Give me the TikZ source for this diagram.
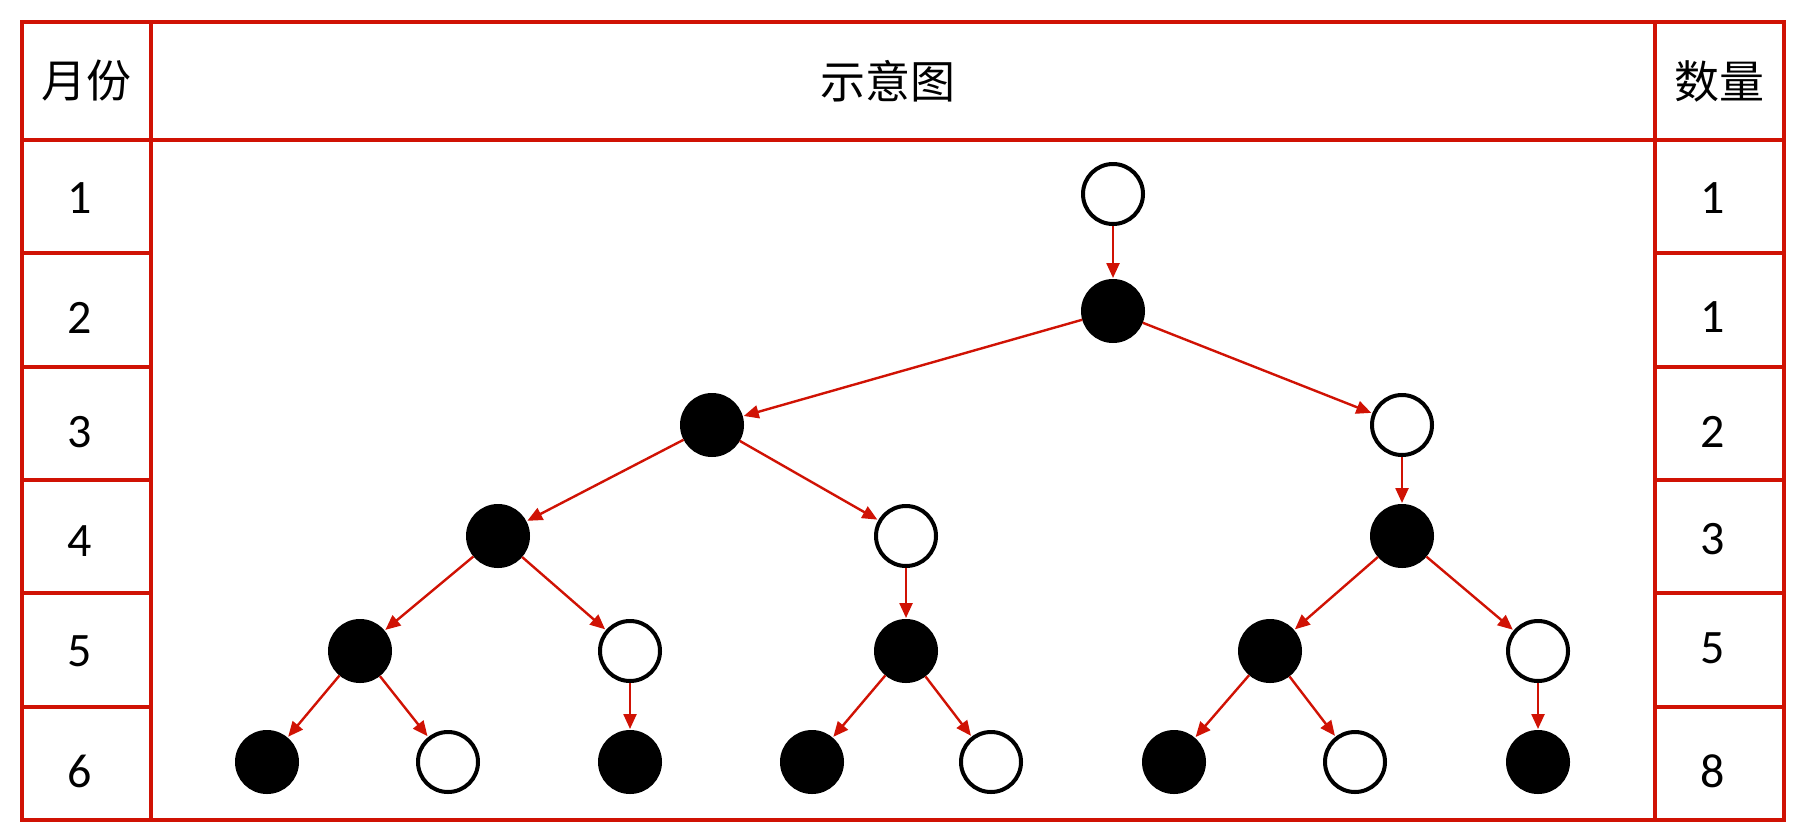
\documentclass[tikz,border=0pt]{standalone}
\usepackage{fontspec}
\setmainfont{Carlito}
\newfontfamily\cjk{Noto Sans CJK SC}
\usetikzlibrary{arrows.meta}
\definecolor{tred}{RGB}{208,18,4}
\tikzset{
  grid/.style={draw=tred, line width=4pt, line cap=rect},
  wnode/.style={circle, draw=black, fill=white, line width=4pt, minimum size=60pt, inner sep=0pt},
  bnode/.style={circle, draw=black, fill=black, line width=4pt, minimum size=60pt, inner sep=0pt},
  conn/.style={draw=tred, line width=2.4pt, -{Triangle[length=15pt,width=13pt]}, shorten >=1pt},
  lbl/.style={font=\fontsize{48}{52}\selectfont, inner sep=0pt},
  clbl/.style={font=\cjk\fontsize{45}{50}\selectfont, inner sep=0pt}
}
\begin{document}
\begin{tikzpicture}[x=1pt,y=-1pt]
\useasboundingbox (0,0) rectangle (1803,825);
% table
\draw[grid] (22,22) rectangle (1784,820);
\draw[grid] (151,22) -- (151,820);
\draw[grid] (1655,22) -- (1655,820);
\draw[grid] (22,140) -- (1784,140);
\foreach \y in {253,367,480,593,707} {
  \draw[grid] (22,\y) -- (151,\y);
  \draw[grid] (1655,\y) -- (1784,\y);
}
% headers
\node[clbl] (h1) at (86,81) {月份};
\node[clbl] (h2) at (888,81) {示意图};
\node[clbl] (h3) at (1719,81) {数量};
% left numbers
\node[lbl] (m1) at (80,198) {1};
\node[lbl] (m2) at (80,318) {2};
\node[lbl] (m3) at (80,432) {3};
\node[lbl] (m4) at (80,541) {4};
\node[lbl] (m5) at (80,651) {5};
\node[lbl] (m6) at (80,771) {6};
% right numbers
\node[lbl] (q1) at (1713,198) {1};
\node[lbl] (q2) at (1713,317) {1};
\node[lbl] (q3) at (1713,432) {2};
\node[lbl] (q4) at (1713,539) {3};
\node[lbl] (q5) at (1713,648) {5};
\node[lbl] (q6) at (1713,771) {8};
% tree nodes
\node[wnode] (n1) at (1113,194) {};
\node[bnode] (n2) at (1113,311) {};
\node[bnode] (a3) at (712,425) {};
\node[wnode] (b3) at (1402,425) {};
\node[bnode] (a4) at (498,536) {};
\node[wnode] (b4) at (906,536) {};
\node[bnode] (c4) at (1402,536) {};
\node[bnode] (a5) at (360,651) {};
\node[wnode] (b5) at (630,651) {};
\node[bnode] (c5) at (906,651) {};
\node[bnode] (d5) at (1270,651) {};
\node[wnode] (e5) at (1538,651) {};
\node[bnode] (f1) at (267,762) {};
\node[wnode] (f2) at (448,762) {};
\node[bnode] (f3) at (630,762) {};
\node[bnode] (f4) at (812,762) {};
\node[wnode] (f5) at (991,762) {};
\node[bnode] (f6) at (1174,762) {};
\node[wnode] (f7) at (1355,762) {};
\node[bnode] (f8) at (1538,762) {};
% connectors
\draw[conn] (n1) -- (n2);
\draw[conn] (n2) -- (a3);
\draw[conn] (n2) -- (b3);
\draw[conn] (a3) -- (a4);
\draw[conn] (a3) -- (b4);
\draw[conn] (b3) -- (c4);
\draw[conn] (a4) -- (a5);
\draw[conn] (a4) -- (b5);
\draw[conn] (b4) -- (c5);
\draw[conn] (c4) -- (d5);
\draw[conn] (c4) -- (e5);
\draw[conn] (a5) -- (f1);
\draw[conn] (a5) -- (f2);
\draw[conn] (b5) -- (f3);
\draw[conn] (c5) -- (f4);
\draw[conn] (c5) -- (f5);
\draw[conn] (d5) -- (f6);
\draw[conn] (d5) -- (f7);
\draw[conn] (e5) -- (f8);
\end{tikzpicture}
\end{document}
